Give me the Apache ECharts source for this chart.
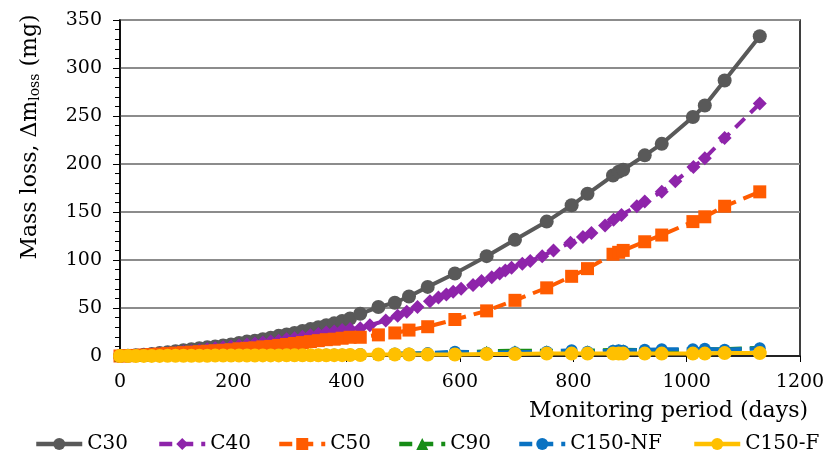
<!DOCTYPE html>
<html>
<head>
<meta charset="utf-8">
<script src="https://cdn.jsdelivr.net/npm/echarts/dist/echarts.min.js"></script>
<style>html,body{margin:0;padding:0;background:#fff;}#c{width:829px;height:459px;}</style>
</head>
<body>
<div id="c"></div>
<script>
// Monitoring days (shared by C30, C50, C90, C150-NF, C150-F)
const days = [0,14,28,42,56,70,84,98,112,126,140,154,168,182,196,210,224,238,252,266,280,294,308,322,336,350,364,378,392,406,
  424,456,485,510,543,591,647,697,753,797,825,870,880,888,926,956,1011,1032,1067,1129];
const c30 = [0,0.3,0.7,1.2,2,3,4,5,6,7,8,9,10,11,12,13.5,15,16,17.5,19,21,22.5,24,26,28,30,32,34,36.5,39,
  44,51,55.5,62,72,86,104,121,140,157,169,188,192,194,209,221,249,261,287,333];
const c50 = [0,0.3,0.6,1,1.5,2,2.5,3,3.5,4,4.5,5,5.5,6,6.5,7.5,8,8.5,9.5,10,11,12,13,14,15,16,17,17.5,18.5,19.5,
  19.5,22,24,27,30.5,38,47,58,71,83,91,106,108,110,119,126,140,145,156,171];
const c90 = [0,0,0.1,0.2,0.3,0.4,0.5,0.5,0.6,0.7,0.8,0.8,0.9,1,1,1,1.1,1.2,1.2,1.3,1.3,1.4,1.4,1.5,1.5,1.5,1.6,1.6,1.7,1.7,
  1.8,2,2,2.5,2.5,3.5,5,5.5,5.5,5,5.5,6.5,6.5,6.5,6,6,6.5,7,7,8.5];
const c150nf = [0,0.1,0.1,0.2,0.3,0.3,0.4,0.5,0.5,0.6,0.6,0.7,0.8,0.8,0.9,0.9,1,1,1.1,1.1,1.2,1.2,1.3,1.3,1.4,1.4,1.5,1.5,1.6,1.6,
  2,2,2.5,2.5,3,4.5,3.5,4,4.5,6,4.5,5.5,6,5.5,6.5,7,7,7.5,6.5,8];
const c150f = [0,0,0,0.1,0.1,0.1,0.2,0.2,0.2,0.3,0.3,0.3,0.4,0.4,0.4,0.5,0.5,0.5,0.6,0.6,0.6,0.7,0.7,0.7,0.8,0.8,0.8,0.9,0.9,1,
  1,1.5,1.5,1.5,1.5,1.5,2,2,2.5,2.5,2.5,2.5,2.5,2.5,2.5,2.5,2.5,2.5,3,3];
// C40 has its own sampling days
const c40Days = [0,14,28,42,56,70,84,98,112,126,140,154,168,182,196,210,224,238,252,266,280,294,308,322,336,350,364,378,392,406,
  424,441,469,490,506,525,547,562,576,588,602,623,638,656,670,680,691,710,724,745,765,795,817,832,856,871,885,912,926,956,980,1012,1032,1067,1129];
const c40 = [0,0.2,0.5,1,1.5,2,2.5,3.5,4.5,5,6,7,8,9,10,11,12,13,14,15,16,17.5,18.5,20,21.5,23,24.5,25.5,27,28,
  29,32,37,42,46,51,57,61,64,67,70,74,78,82,86,89,92,96,99,104,110,118,124,128,136,142,147,156,161,171,182,197,206,227,263];

const seriesNames = ['C30','C40','C50','C90','C150-NF','C150-F'];
const xTicks = {min:0, max:1200, interval:200};
const yTicks = {min:0, max:350, interval:50};

const FONT = 'DejaVu Serif';
const pair = (xs, ys) => xs.map((d, i) => [d, ys[i]]);
const legendLeft = [34, 157, 277, 397, 517, 692];

function mk(name, data, color, symbol, size, dashed) {
  return {
    name, type: 'line', data, symbol, symbolSize: size,
    itemStyle: {color},
    lineStyle: {color, width: 4, type: dashed ? [13, 8] : 'solid'},
    emphasis: {disabled: true}, animation: false
  };
}

const chart = echarts.init(document.getElementById('c'));
chart.setOption({
  animation: false,
  grid: {left: 120, right: 29, top: 20, bottom: 103, show: true, borderColor: '#000', borderWidth: 1.5},
  xAxis: {
    type: 'value', min: xTicks.min, max: xTicks.max, interval: xTicks.interval,
    axisLine: {lineStyle: {color: '#000', width: 1.5}},
    axisTick: {show: true, length: 6, lineStyle: {color: '#000'}},
    splitLine: {show: false},
    axisLabel: {fontFamily: FONT, fontSize: 19, color: '#000', margin: 17, formatter: v => String(v)},
    name: 'Monitoring period (days)', nameLocation: 'end', nameGap: 8,
    nameTextStyle: {fontFamily: FONT, fontSize: 22, color: '#000', align: 'right', verticalAlign: 'top', padding: [44, 0, 0, 0]}
  },
  yAxis: {
    type: 'value', min: yTicks.min, max: yTicks.max, interval: yTicks.interval,
    axisLine: {show: true, lineStyle: {color: '#000', width: 1.5}},
    axisTick: {show: true, length: 7, lineStyle: {color: '#000'}},
    minorTick: {show: true, splitNumber: 5, length: 5, lineStyle: {color: '#000'}},
    splitLine: {show: true, lineStyle: {color: '#8c8c8c', width: 2}},
    axisLabel: {fontFamily: FONT, fontSize: 19, color: '#000', margin: 18, formatter: v => String(v)}
  },
  legend: seriesNames.map((n, i) => ({
    data: [n], left: legendLeft[i], bottom: 5, padding: 0,
    itemWidth: 46, itemHeight: 15,
    lineStyle: {width: 4.5},
    textStyle: {fontFamily: FONT, fontSize: 20, color: '#000', padding: [0, 0, 0, 0]}
  })),
  graphic: [{
    type: 'text', x: 30, y: 137, rotation: Math.PI / 2,
    style: {
      text: 'Mass loss, Δm{sub|loss} (mg)',
      fontFamily: FONT, fontSize: 22, fill: '#000', align: 'center', verticalAlign: 'middle',
      rich: {sub: {fontFamily: FONT, fontSize: 14, fill: '#000', padding: [11, 0, 0, 0]}}
    }
  }],
  series: [
    mk('C30', pair(days, c30), '#595959', 'circle', 14, false),
    mk('C40', pair(c40Days, c40), '#8E24AA', 'diamond', 14, true),
    mk('C50', pair(days, c50), '#FF5B00', 'rect', 13, true),
    mk('C90', pair(days, c90), '#168C16', 'triangle', 11, true),
    mk('C150-NF', pair(days, c150nf), '#0A72C2', 'circle', 12, true),
    mk('C150-F', pair(days, c150f), '#FFC000', 'circle', 14, false)
  ]
});
</script>
</body>
</html>
